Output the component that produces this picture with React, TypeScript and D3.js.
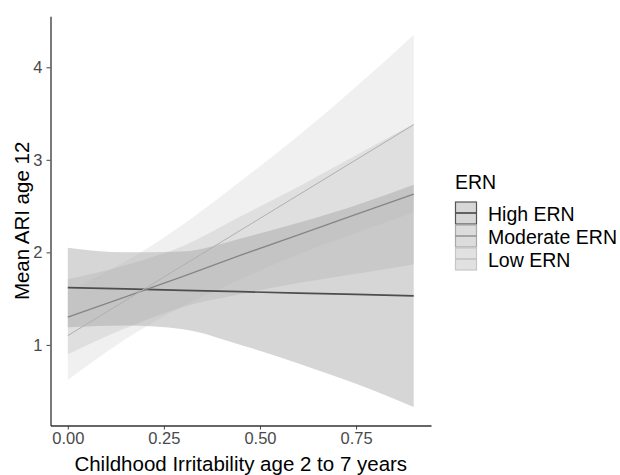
import React, { useEffect, useRef } from 'react';
import * as d3 from 'd3';

const xGrid = [0, 0.15, 0.3, 0.45, 0.6, 0.75, 0.9];

// High ERN
const highFit = [1.62, 1.605, 1.59, 1.575, 1.56, 1.545, 1.53];
const highLower = [1.19, 1.21, 1.17, 1.0, 0.8, 0.58, 0.33];
const highUpper = [2.05, 2.0, 2.01, 2.15, 2.32, 2.51, 2.73];

// Moderate ERN
const moderateFit = [1.3, 1.52, 1.74, 1.97, 2.19, 2.41, 2.63];
const moderateLower = [0.9, 1.18, 1.41, 1.55, 1.67, 1.77, 1.87];
const moderateUpper = [1.71, 1.86, 2.07, 2.39, 2.71, 3.05, 3.39];

// Low ERN
const lowFit = [1.1, 1.48, 1.86, 2.24, 2.62, 3.0, 3.38];
const lowLower = [0.62, 1.06, 1.42, 1.71, 1.98, 2.21, 2.43];
const lowUpper = [1.58, 1.9, 2.3, 2.77, 3.26, 3.79, 4.35];

const groupLabels = ['High ERN', 'Moderate ERN', 'Low ERN'];
const xTicks = [0, 0.25, 0.5, 0.75];
const yTicks = [1, 2, 3, 4];

interface Group {
    label: string;
    fit: number[];
    lower: number[];
    upper: number[];
    fill: string;
    line: string;
    lineWidth: number;
    keyFill: string;
    keyBorder: string;
}

const groups: Group[] = [
    { label: groupLabels[0], fit: highFit, lower: highLower, upper: highUpper, fill: '#333333', line: '#4d4d4d', lineWidth: 1.7, keyFill: '#d7d7d7', keyBorder: '#555555' },
    { label: groupLabels[1], fit: moderateFit, lower: moderateLower, upper: moderateUpper, fill: '#989898', line: '#858585', lineWidth: 1.3, keyFill: '#dcdcdc', keyBorder: '#a8a8a8' },
    { label: groupLabels[2], fit: lowFit, lower: lowLower, upper: lowUpper, fill: '#b3b3b3', line: '#b0b0b0', lineWidth: 1, keyFill: '#e1e1e1', keyBorder: '#c6c6c6' },
];

const width = 620;
const height = 475;
const font = '"Liberation Sans", Arial, Helvetica, sans-serif';

const App: React.FC = () => {
    const ref = useRef<SVGSVGElement>(null);

    useEffect(() => {
        const svg = d3.select(ref.current);
        svg.selectAll('*').remove();
        svg.attr('width', width).attr('height', height);

        // ggplot-style 5% expansion of the data range
        const xExt = d3.extent(xGrid) as [number, number];
        const xPad = (xExt[1] - xExt[0]) * 0.05;
        const xScale = d3
            .scaleLinear()
            .domain([xExt[0] - xPad, xExt[1] + xPad])
            .range([50.5, 431]);

        const yMin = d3.min(groups, (g) => d3.min(g.lower)) ?? 0;
        const yMax = d3.max(groups, (g) => d3.max(g.upper)) ?? 1;
        const yPad = (yMax - yMin) * 0.05;
        const yScale = d3
            .scaleLinear()
            .domain([yMin - yPad, yMax + yPad])
            .range([425.5, 16.3]);

        const area = d3
            .area<number>()
            .x((_, i) => xScale(xGrid[i]))
            .curve(d3.curveMonotoneX);

        const line = d3
            .line<number>()
            .x((_, i) => xScale(xGrid[i]))
            .y((d) => yScale(d));

        // ribbons
        groups.forEach((g) => {
            svg.append('path')
                .datum(g.fit)
                .attr(
                    'd',
                    area.y0((_, i) => yScale(g.lower[i])).y1((_, i) => yScale(g.upper[i]))
                )
                .attr('fill', g.fill)
                .attr('fill-opacity', 0.2);
        });

        // fitted lines
        groups.forEach((g) => {
            svg.append('path')
                .datum(g.fit)
                .attr('d', line)
                .attr('fill', 'none')
                .attr('stroke', g.line)
                .attr('stroke-width', g.lineWidth);
        });

        // x axis
        const xAxis = svg
            .append('g')
            .attr('transform', `translate(0,${yScale.range()[0]})`)
            .call(
                d3
                    .axisBottom(xScale)
                    .tickValues(xTicks)
                    .tickFormat(d3.format('.2f'))
                    .tickSize(4)
                    .tickPadding(3)
                    .tickSizeOuter(0)
            );
        xAxis.select('.domain').attr('stroke', '#333').attr('stroke-width', 1.3);
        xAxis.selectAll('.tick line').attr('stroke', '#444');
        xAxis
            .selectAll('.tick text')
            .attr('fill', '#4a4a4a')
            .style('font-family', font)
            .style('font-size', '16.5px');

        // y axis
        const yAxis = svg
            .append('g')
            .attr('transform', `translate(${xScale.range()[0]},0)`)
            .call(
                d3
                    .axisLeft(yScale)
                    .tickValues(yTicks)
                    .tickFormat(d3.format('d'))
                    .tickSize(4)
                    .tickPadding(4)
                    .tickSizeOuter(0)
            );
        yAxis.select('.domain').attr('stroke', '#333').attr('stroke-width', 1.3);
        yAxis.selectAll('.tick line').attr('stroke', '#444');
        yAxis
            .selectAll('.tick text')
            .attr('fill', '#4a4a4a')
            .style('font-family', font)
            .style('font-size', '16.5px');

        // axis titles
        svg.append('text')
            .attr('x', (xScale.range()[0] + xScale.range()[1]) / 2)
            .attr('y', 470.5)
            .attr('text-anchor', 'middle')
            .style('font-family', font)
            .style('font-size', '20.5px')
            .attr('fill', '#000')
            .text('Childhood Irritability age 2 to 7 years');

        svg.append('text')
            .attr('transform', 'rotate(-90)')
            .attr('x', -(yScale.range()[0] + yScale.range()[1]) / 2)
            .attr('y', 28.5)
            .attr('text-anchor', 'middle')
            .style('font-family', font)
            .style('font-size', '20.5px')
            .attr('fill', '#000')
            .text('Mean ARI age 12');

        // legend
        const legend = svg.append('g').attr('transform', 'translate(455,0)');
        legend
            .append('text')
            .attr('x', 0)
            .attr('y', 189)
            .style('font-family', font)
            .style('font-size', '19.5px')
            .attr('fill', '#000')
            .text('ERN');

        const keyTop = 201.5;
        const keyH = 23;
        const keyW = 22;
        groups.forEach((g, i) => {
            const top = keyTop + i * keyH;
            legend
                .append('rect')
                .attr('x', 0.5)
                .attr('y', top + 0.5)
                .attr('width', keyW - 1)
                .attr('height', keyH - 1)
                .attr('fill', g.keyFill)
                .attr('stroke', g.keyBorder)
                .attr('stroke-width', 1.2);
            legend
                .append('line')
                .attr('x1', 0.5)
                .attr('x2', keyW - 0.5)
                .attr('y1', top + keyH / 2)
                .attr('y2', top + keyH / 2)
                .attr('stroke', g.line)
                .attr('stroke-width', g.lineWidth);
            legend
                .append('text')
                .attr('x', 33)
                .attr('y', top + keyH / 2 + 7.5)
                .style('font-family', font)
                .style('font-size', '19.5px')
                .attr('fill', '#000')
                .text(g.label);
        });
    }, []);

    return (
        <div style={{ position: 'absolute', left: 0, top: 0 }}>
            <svg ref={ref} style={{ display: 'block' }}></svg>
        </div>
    );
};

export default App;
